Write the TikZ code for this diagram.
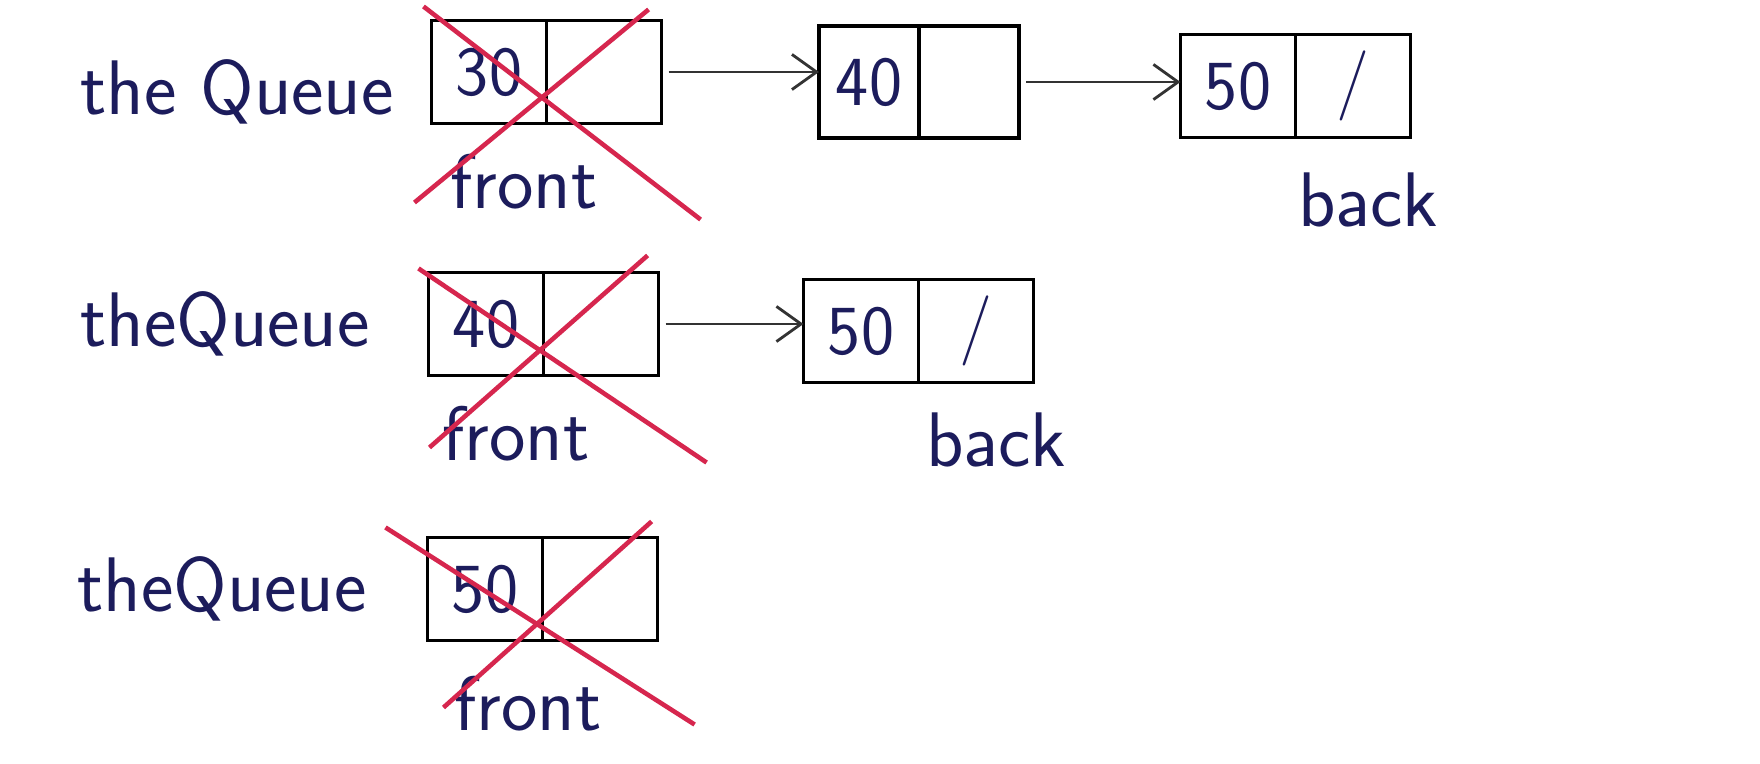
\documentclass[tikz,border=0pt]{standalone}
\usepackage{xcolor}
\usepackage{tikz}
\usetikzlibrary{arrows.meta,positioning,calc}

\definecolor{ink}{RGB}{28,28,92}
\definecolor{cross}{RGB}{214,38,78}

\begin{document}
\begin{tikzpicture}[x=0.01cm, y=-0.01cm,
  cell/.style={draw, line width=1pt, minimum width=1.15cm, minimum height=1.03cm,
    inner sep=0pt, outer sep=0pt, font=\sffamily\fontsize{20}{24}\selectfont, text=ink},
  lbl/.style={font=\sffamily\fontsize{22}{26}\selectfont, text=ink, inner sep=0pt},
  arr/.style={-{Straight Barb[length=7pt,width=10pt]}, line width=0.8pt, draw=black!80},
  strike/.style={draw=cross, line width=1.3pt}
]
  \fill[white] (0,0) rectangle (1760,764);
  \useasboundingbox (0,0) rectangle (1760,764);

  % first state
  \node[cell] (a30) at (489,72) {30};
  \node[cell, right=0pt of a30] (a30n) {};
  \node[cell, minimum width=1.0cm, minimum height=1.12cm] (a40) at (869,82) {40};
  \node[cell, minimum width=1.0cm, minimum height=1.12cm, right=0pt of a40] (a40n) {};
  \node[cell] (a50) at (1238,86) {50};
  \node[cell, right=0pt of a50] (a50n) {/};
  \node[lbl, left=0.37cm of a30, yshift=-0.2cm] (qa) {the Queue};
  \node[lbl, below=0.3cm of a30, xshift=0.35cm] (fa) {front};
  \node[lbl, below=0.35cm of a50n, xshift=0.15cm] (ba) {back};
  \draw[arr, shorten <=2pt] (a30n.east) -- (a30n.east -| a40.west);
  \draw[arr, shorten <=2pt] (a40n.east) -- (a40n.east -| a50.west);
  \draw[strike] ($(a30.north west)+(-8,-14)$) -- ($(a30n.south east)+(39,96)$);
  \draw[strike] ($(a30n.north east)+(-13,-11)$) -- ($(a30.south west)+(-17,79)$);

  % second state
  \node[cell] (b40) at (486,324) {40};
  \node[cell, right=0pt of b40] (b40n) {};
  \node[cell] (b50) at (861,331) {50};
  \node[cell, right=0pt of b50] (b50n) {/};
  \node[lbl, left=0.58cm of b40] (qb) {theQueue};
  \node[lbl, below=0.3cm of b40, xshift=0.3cm] (fb) {front};
  \node[lbl, below=0.3cm of b50n, xshift=0.2cm] (bb) {back};
  \draw[arr, shorten <=2pt] (b40n.east) -- (b40n.east -| b50.west);
  \draw[strike] ($(b40.north west)+(-10,-4)$) -- ($(b40n.south east)+(48,87)$);
  \draw[strike] ($(b40n.north east)+(-11,-17)$) -- ($(b40.south west)+(1,72)$);

  % third state
  \node[cell] (c50) at (485,589) {50};
  \node[cell, right=0pt of c50] (c50n) {};
  \node[lbl, left=0.6cm of c50] (qc) {theQueue};
  \node[lbl, below=0.35cm of c50, xshift=0.43cm] (fc) {front};
  \draw[strike] ($(c50.north west)+(-42,-10)$) -- ($(c50n.south east)+(37,84)$);
  \draw[strike] ($(c50n.north east)+(-6,-16)$) -- ($(c50.south west)+(16,67)$);
\end{tikzpicture}
\end{document}
